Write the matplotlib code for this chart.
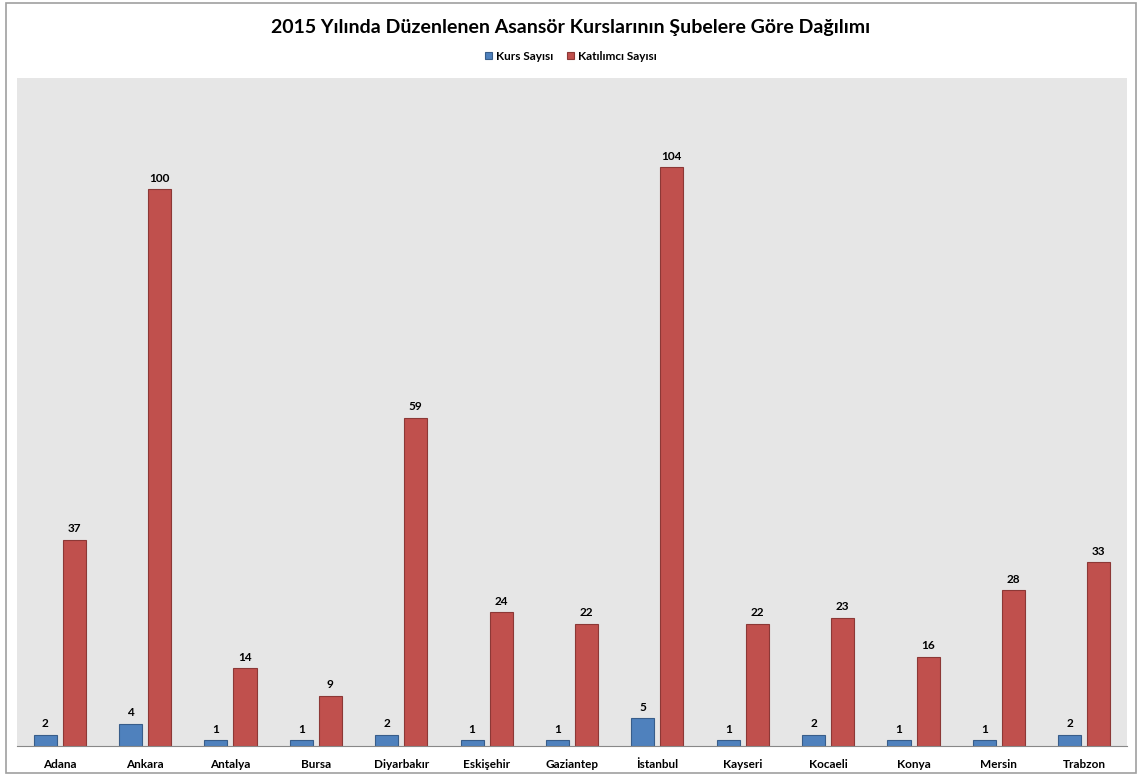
import numpy as np
import matplotlib
matplotlib.use('Agg')
import matplotlib.pyplot as plt
from matplotlib.patches import Rectangle

plt.rcParams['font.family'] = ['Lato', 'DejaVu Sans']
plt.rcParams['font.weight'] = 'bold'

subeler = ['Adana', 'Ankara', 'Antalya', 'Bursa', 'Diyarbakır', 'Eskişehir', 'Gaziantep',
           'İstanbul', 'Kayseri', 'Kocaeli', 'Konya', 'Mersin', 'Trabzon']
kurs_sayisi = [2, 4, 1, 1, 2, 1, 1, 5, 1, 2, 1, 1, 2]
katilimci_sayisi = [37, 100, 14, 9, 59, 24, 22, 104, 22, 23, 16, 28, 33]

fig = plt.figure(figsize=(11.42, 7.77), dpi=100)
# outer chart border
fig.patches.append(Rectangle((6/1142, 4/777), 1130/1142, 770/777, transform=fig.transFigure,
                             fill=False, edgecolor='#a0a0a0', lw=1.2))
ax = fig.add_axes([17/1142, 1-746/777, 1110/1142, 668/777])
ax.set_facecolor('#e6e6e6')

x = np.arange(len(subeler))
w = 0.27
b1 = ax.bar(x - 0.17, kurs_sayisi, w, color='#4f81bd', edgecolor='#385d8a', lw=0.8, label='Kurs Sayısı')
b2 = ax.bar(x + 0.17, katilimci_sayisi, w, color='#c0504d', edgecolor='#8c3836', lw=0.8, label='Katılımcı Sayısı')

for bars in (b1, b2):
    ax.bar_label(bars, padding=4, fontsize=8.5, fontweight='bold')

ax.set_xlim(-0.5, len(subeler) - 0.5)
ax.set_ylim(0, 120)
ax.set_yticks([])
ax.set_xticks(x)
ax.set_xticklabels(subeler, fontsize=8.5, fontweight='bold')
ax.tick_params(axis='x', length=0, pad=9)
for s in ['top', 'right', 'left']:
    ax.spines[s].set_visible(False)
ax.spines['bottom'].set_color('#888888')

fig.text(0.5, 1-27/777, '2015 Yılında Düzenlenen Asansör Kurslarının Şubelere Göre Dağılımı',
         ha='center', va='center', fontsize=14, fontweight='bold')
fig.legend(handles=[b1, b2], loc='center', bbox_to_anchor=(0.5, 1-56/777), ncol=2, frameon=False,
           fontsize=8.5, handlelength=0.6, handleheight=0.6, handletextpad=0.3, columnspacing=1.2)

fig.savefig('out.png', dpi=100)
